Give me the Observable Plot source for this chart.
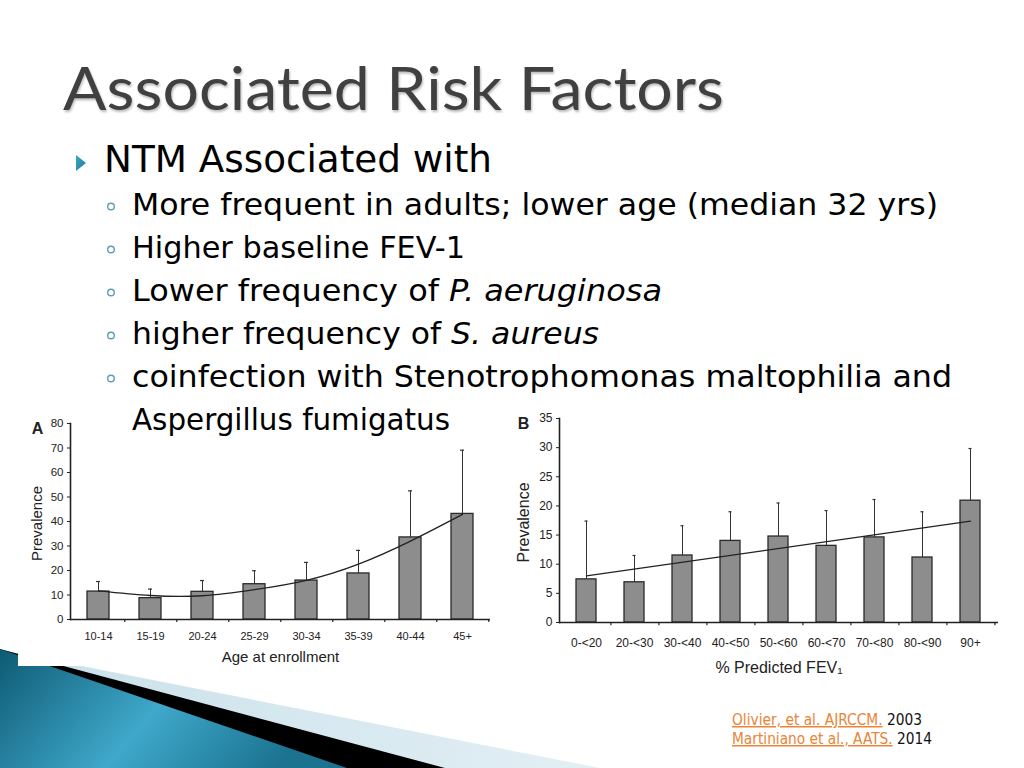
<!DOCTYPE html>
<html>
<head>
<meta charset="utf-8">
<script src="https://cdn.jsdelivr.net/npm/d3@7"></script>
<script src="https://cdn.jsdelivr.net/npm/@observablehq/plot@0.6"></script>
<style>
  html, body { margin: 0; padding: 0; background: #fff; }
  body { width: 1024px; height: 768px; position: relative; overflow: hidden; }
  .abs { position: absolute; }
</style>
</head>
<body>
<svg class="abs" id="deco" width="1024" height="768" style="left:0;top:0">
  <defs>
    <linearGradient id="tealGrad" x1="0" y1="0" x2="1" y2="0.3">
      <stop offset="0" stop-color="#0e5a73"/>
      <stop offset="0.55" stop-color="#3fa8cb"/>
      <stop offset="1" stop-color="#1b7390"/>
    </linearGradient>
    <linearGradient id="lightGrad" x1="0" y1="0" x2="1" y2="0">
      <stop offset="0" stop-color="#c9e0ea"/>
      <stop offset="1" stop-color="#e3eff5"/>
    </linearGradient>
  </defs>
  <polygon points="0,650 600,768 0,768" fill="url(#lightGrad)"/>
  <polygon points="0,649 445,768 0,768" fill="#000"/>
  <polygon points="0,649 347,768 0,768" fill="url(#tealGrad)"/>
</svg>
<div class="abs" id="chartA" style="left:18px;top:408px"></div>
<div class="abs" id="chartB" style="left:505px;top:410px"></div>
<svg class="abs" id="slideText" width="1024" height="768" style="left:0;top:0;pointer-events:none">
  <defs>
    <filter id="titleShadow" x="-5%" y="-20%" width="110%" height="150%">
      <feDropShadow dx="1" dy="2" stdDeviation="1.2" flood-color="#777" flood-opacity="0.5"/>
    </filter>
    <linearGradient id="arrowGrad" x1="0" y1="0" x2="1" y2="1">
      <stop offset="0" stop-color="#3aa6c4"/>
      <stop offset="1" stop-color="#1f7f9c"/>
    </linearGradient>
  </defs>
  <text x="63" y="110" font-family="Lato, 'Open Sans', sans-serif" font-weight="400" font-size="60" fill="#404040" textLength="661" lengthAdjust="spacingAndGlyphs" filter="url(#titleShadow)">Associated Risk Factors</text>

  <polygon points="76,155 76,171 86,163" fill="url(#arrowGrad)"/>
  <text x="104" y="172" font-family="'DejaVu Sans', sans-serif" font-size="37" fill="#000" textLength="388" lengthAdjust="spacingAndGlyphs">NTM Associated with</text>

  <g font-family="'DejaVu Sans', sans-serif" font-size="30" fill="#000">
    <g fill="none" stroke="#5c9db2" stroke-width="1.4">
      <circle cx="111" cy="206.5" r="3.3"/>
      <circle cx="111" cy="249.5" r="3.3"/>
      <circle cx="111" cy="292.5" r="3.3"/>
      <circle cx="111" cy="335.5" r="3.3"/>
      <circle cx="111" cy="378.5" r="3.3"/>
    </g>
    <text x="132" y="215" textLength="806" lengthAdjust="spacingAndGlyphs">More frequent in adults; lower age (median 32 yrs)</text>
    <text x="132" y="258" textLength="333" lengthAdjust="spacingAndGlyphs">Higher baseline FEV-1</text>
    <text x="132" y="301" textLength="530" lengthAdjust="spacingAndGlyphs">Lower frequency of <tspan font-style="italic">P. aeruginosa</tspan></text>
    <text x="132" y="344" textLength="467" lengthAdjust="spacingAndGlyphs">higher frequency of <tspan font-style="italic">S. aureus</tspan></text>
    <text x="132" y="387" textLength="820" lengthAdjust="spacingAndGlyphs">coinfection with Stenotrophomonas maltophilia and</text>
    <text x="132" y="430" textLength="318" lengthAdjust="spacingAndGlyphs">Aspergillus fumigatus</text>
  </g>

  <g font-family="'Liberation Sans Narrow', 'DejaVu Sans Condensed', 'Liberation Sans', sans-serif" font-size="15">
    <text x="732" y="725" textLength="190" lengthAdjust="spacingAndGlyphs"><tspan fill="#ea8436" text-decoration="underline">Olivier, et al. AJRCCM.</tspan><tspan fill="#111"> 2003</tspan></text>
    <text x="732" y="744" textLength="200" lengthAdjust="spacingAndGlyphs"><tspan fill="#ea8436" text-decoration="underline">Martiniano et al., AATS.</tspan><tspan fill="#111"> 2014</tspan></text>
  </g>
</svg>

<script>
// ---------- Data: Panel A (Age at enrollment) ----------
const ageGroups = ["10-14", "15-19", "20-24", "25-29", "30-34", "35-39", "40-44", "45+"];
const agePrevalence = [11.4, 8.7, 11.3, 14.4, 15.9, 18.8, 33.5, 43.1];
const ageErrorTop = [15.5, 12.4, 15.9, 19.9, 23.3, 28.2, 52.5, 69.1];
const ageTrend = [11.7, 9.8, 9.7, 12.2, 16.0, 22.6, 32.0, 42.9];
const ageTicks = [0, 10, 20, 30, 40, 50, 60, 70, 80];

// ---------- Data: Panel B (% Predicted FEV1) ----------
const fevGroups = ["0-<20", "20-<30", "30-<40", "40-<50", "50-<60", "60-<70", "70-<80", "80-<90", "90+"];
const fevPrevalence = [7.4, 6.9, 11.5, 14.0, 14.75, 13.15, 14.6, 11.15, 20.9];
const fevErrorTop = [17.4, 11.5, 16.6, 19.0, 20.5, 19.2, 21.1, 19.0, 29.85];
const fevTrendGroups = ["0-<20", "90+"];
const fevTrend = [8.0, 17.4];
const fevTicks = [0, 5, 10, 15, 20, 25, 30, 35];

const ink = "#222";
const barFill = "#8d8d8d";

function panel({groups, values, errors, trendGroups, trend, ticks, yMax, curve,
                width, height, mL, mR, mT, mB, letter, xLabel, labelDy,
                tickPad, xFont, yFont, titleFont, yLabelDx, tickLen, capInset}) {
  const table = groups.map((g, i) => ({group: g, value: values[i], err: errors[i]}));
  const trendTable = trendGroups.map((g, i) => ({group: g, value: trend[i]}));
  const step = (width - mL - mR) / groups.length;
  return Plot.plot({
    width, height,
    marginLeft: mL, marginRight: mR, marginTop: mT, marginBottom: mB,
    style: {background: "white", fontFamily: "'Liberation Sans', Arial, sans-serif", fontSize: xFont + "px", color: ink},
    x: {domain: groups, paddingInner: 0.58, paddingOuter: 0.29, label: null},
    y: {domain: [0, yMax], label: null},
    marks: [
      Plot.ruleX(table, {x: "group", y1: "value", y2: "err", stroke: "#333", strokeWidth: 1}),
      Plot.tickY(table, {x: "group", y: "err", stroke: "#333", strokeWidth: 1.2, inset: capInset}),
      Plot.barY(table, {x: "group", y: "value", fill: barFill, stroke: "#2a2a2a", strokeWidth: 1.3}),
      Plot.line(trendTable, {x: "group", y: "value", curve, stroke: ink, strokeWidth: 1.3}),
      Plot.ruleY([0], {stroke: ink, strokeWidth: 1.6}),
      Plot.frame({anchor: "left", stroke: ink, strokeWidth: 1.6}),
      Plot.ruleX(groups, {x: d => d, y1: 0, y2: -tickLen, dx: step / 2, stroke: ink, strokeWidth: 1.2, clip: false}),
      Plot.axisY({ticks, tickSize: 3, tickPadding: 4, fontSize: yFont, label: null, stroke: ink}),
      Plot.axisX({tickSize: 0, tickPadding: tickPad, fontSize: xFont, label: null}),
      Plot.text([xLabel], {text: d => d, frameAnchor: "bottom", textAnchor: "middle", lineAnchor: "middle", dy: labelDy, fontSize: titleFont, fill: ink}),
      Plot.text(["Prevalence"], {text: d => d, frameAnchor: "left", textAnchor: "middle", lineAnchor: "middle", dx: yLabelDx, dy: 2, rotate: -90, fontSize: titleFont, fill: ink}),
      Plot.text([letter], {text: d => d, frameAnchor: "top-left", textAnchor: "middle", lineAnchor: "middle", dx: yLabelDx, dy: 5, fontSize: 16, fontWeight: "bold", fill: ink})
    ]
  });
}

document.getElementById("chartA").append(panel({
  groups: ageGroups, values: agePrevalence, errors: ageErrorTop,
  trendGroups: ageGroups, trend: ageTrend, ticks: ageTicks, yMax: 80, curve: "natural",
  width: 482, height: 258, mL: 52, mR: 10, mT: 15, mB: 47,
  letter: "A", xLabel: "Age at enrollment", labelDy: 38,
  tickPad: 13, xFont: 11, yFont: 11.5, titleFont: 15, yLabelDx: -33, tickLen: 1.2, capInset: 9
}));

document.getElementById("chartB").append(panel({
  groups: fevGroups, values: fevPrevalence, errors: fevErrorTop,
  trendGroups: fevTrendGroups, trend: fevTrend, ticks: fevTicks, yMax: 35, curve: "linear",
  width: 505, height: 270, mL: 54, mR: 12, mT: 8, mB: 58,
  letter: "B", xLabel: "% Predicted FEV\u2081", labelDy: 45,
  tickPad: 16, xFont: 12, yFont: 12, titleFont: 16, yLabelDx: -36, tickLen: 0.55, capInset: 8.5
}));
</script>
</body>
</html>
